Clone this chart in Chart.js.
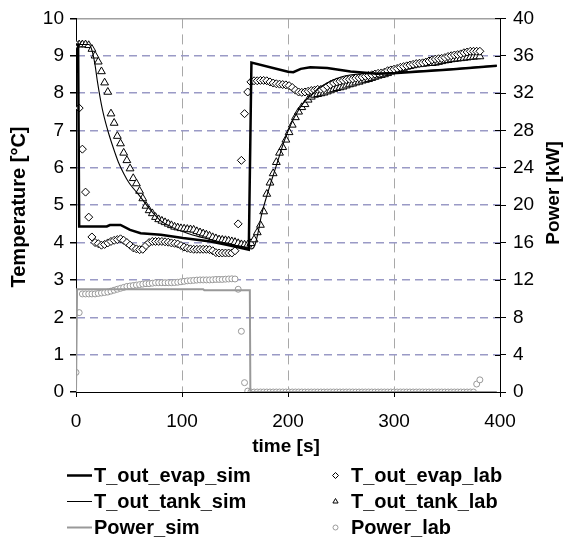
<!DOCTYPE html>
<html>
<head>
<meta charset="utf-8">
<script src="https://cdn.jsdelivr.net/npm/chart.js@4"></script>
<style>
  html, body { margin: 0; padding: 0; background: #fff; }
</style>
</head>
<body>
<canvas id="chart" width="566" height="540"></canvas>
<script>
// axis ticks
const timeTicks = [0, 100, 200, 300, 400];
const tempTicks = [0, 1, 2, 3, 4, 5, 6, 7, 8, 9, 10];
const powerTicks = [0, 4, 8, 12, 16, 20, 24, 28, 32, 36, 40];

// simulation curves (time [s] / value)
const evapSimTime = [0, 2, 3, 29, 32, 42, 51, 61, 80, 101, 127, 142, 163, 165.5, 200, 205, 212, 221, 237, 259, 284, 303, 353, 397];
const evapSim = [9.3, 9.3, 4.43, 4.43, 4.47, 4.47, 4.34, 4.25, 4.21, 4.12, 4.03, 3.94, 3.81, 8.82, 8.57, 8.56, 8.65, 8.69, 8.67, 8.58, 8.52, 8.54, 8.63, 8.73];

const tankSimTime = [0, 12, 15, 18, 20, 25, 30, 35, 40, 45, 50, 55, 60, 70, 80, 90, 100, 110, 120, 130, 140, 150, 160, 166, 169, 172, 175, 180, 186, 190, 196, 200, 205, 210, 215, 221, 230, 240, 250, 260, 270, 285, 300, 350, 397];
const tankSim = [9.3, 9.3, 9.15, 8.75, 8.35, 7.55, 7.0, 6.55, 6.15, 5.85, 5.6, 5.42, 5.25, 4.88, 4.58, 4.42, 4.3, 4.2, 4.13, 4.06, 3.99, 3.93, 3.87, 3.83, 3.95, 4.3, 4.74, 5.25, 5.8, 6.15, 6.68, 6.98, 7.3, 7.55, 7.75, 7.92, 8.15, 8.32, 8.43, 8.49, 8.52, 8.53, 8.55, 8.64, 8.74];

const powerSimTime = [0, 1, 120, 121, 164, 164.5, 397];
const powerSim = [0, 11.0, 11.0, 10.9, 10.9, 0, 0];

// lab measurements, every 3 s
const labTime = [
  0, 3, 6, 9, 12, 15, 18, 21, 24, 27,
  30, 33, 36, 39, 42, 45, 48, 51, 54, 57,
  60, 63, 66, 69, 72, 75, 78, 81, 84, 87,
  90, 93, 96, 99, 102, 105, 108, 111, 114, 117,
  120, 123, 126, 129, 132, 135, 138, 141, 144, 147,
  150, 153, 156, 159, 162, 165, 168, 171, 174, 177,
  180, 183, 186, 189, 192, 195, 198, 201, 204, 207,
  210, 213, 216, 219, 222, 225, 228, 231, 234, 237,
  240, 243, 246, 249, 252, 255, 258, 261, 264, 267,
  270, 273, 276, 279, 282, 285, 288, 291, 294, 297,
  300, 303, 306, 309, 312, 315, 318, 321, 324, 327,
  330, 333, 336, 339, 342, 345, 348, 351, 354, 357,
  360, 363, 366, 369, 372, 375, 378, 381
];
const evapLab = [
  9.3, 7.6, 6.5, 5.35, 4.68, 4.15, 4.0, 3.97, 3.93, 3.95,
  3.99, 4.03, 4.06, 4.08, 4.1, 4.06, 4.0, 3.93, 3.86, 3.83,
  3.81, 3.82, 3.92, 4.0, 4.03, 4.03, 4.03, 4.03, 4.02, 4.01,
  3.99, 3.98, 3.96, 3.92, 3.88, 3.85, 3.83, 3.82, 3.82, 3.82,
  3.82, 3.82, 3.81, 3.78, 3.73, 3.72, 3.72, 3.72, 3.72, 3.72,
  3.78, 4.5, 6.2, 7.45, 8.03, 8.3, 8.33, 8.33, 8.34, 8.34,
  8.33, 8.3, 8.27, 8.25, 8.24, 8.23, 8.22, 8.2, 8.15, 8.08,
  8.03, 8.02, 8.03, 8.05, 8.07, 8.08, 8.1, 8.1, 8.12, 8.18,
  8.23, 8.27, 8.3, 8.32, 8.34, 8.36, 8.37, 8.38, 8.4, 8.41,
  8.43, 8.45, 8.47, 8.49, 8.51, 8.53, 8.54, 8.56, 8.6, 8.62,
  8.64, 8.66, 8.69, 8.71, 8.73, 8.75, 8.77, 8.79, 8.8, 8.81,
  8.83, 8.86, 8.89, 8.91, 8.92, 8.93, 8.95, 8.98, 9.0, 9.02,
  9.03, 9.05, 9.08, 9.1, 9.12, 9.12, 9.12, 9.12
];
const tankLab = [
  9.3, 9.3, 9.3, 9.3, 9.28, 9.18, 9.0, 8.84, 8.58, 8.28,
  8.03, 7.45, 7.2, 6.85, 6.65, 6.4, 6.2, 5.98, 5.72, 5.58,
  5.38, 5.18, 4.98, 4.86, 4.78, 4.68, 4.62, 4.58, 4.54, 4.5,
  4.46, 4.42, 4.4, 4.38, 4.37, 4.36, 4.35, 4.34, 4.3, 4.27,
  4.24, 4.21, 4.18, 4.14, 4.11, 4.08, 4.07, 4.06, 4.05, 4.03,
  4.01, 3.98, 3.95, 3.94, 3.94, 3.98, 4.08, 4.27, 4.47, 4.83,
  5.3, 5.6, 5.85, 6.15, 6.4, 6.55, 6.75, 6.95, 7.15, 7.35,
  7.5, 7.62, 7.7, 7.82, 7.9, 7.95, 7.97, 7.99, 8.01, 8.04,
  8.07, 8.1, 8.13, 8.15, 8.17, 8.2, 8.23, 8.25, 8.28, 8.3,
  8.33, 8.35, 8.37, 8.4, 8.43, 8.46, 8.48, 8.5, 8.53, 8.57,
  8.6, 8.62, 8.64, 8.67, 8.7, 8.72, 8.74, 8.76, 8.77, 8.78,
  8.79, 8.8, 8.8, 8.81, 8.83, 8.85, 8.87, 8.88, 8.9, 8.91,
  8.92, 8.93, 8.94, 8.95, 8.96, 8.97, 8.98, 8.98
];
const powerLab = [
  2.1, 8.5, 10.5, 10.5, 10.5, 10.5, 10.5, 10.55, 10.6, 10.65,
  10.7, 10.8, 10.9, 11.0, 11.1, 11.2, 11.3, 11.35, 11.4, 11.45,
  11.5, 11.55, 11.6, 11.6, 11.65, 11.7, 11.7, 11.7, 11.7, 11.7,
  11.7, 11.72, 11.75, 11.8, 11.85, 11.9, 11.92, 11.95, 11.98, 12.0,
  12.0, 12.0, 12.0, 12.02, 12.05, 12.05, 12.05, 12.08, 12.1, 12.12,
  12.1, 11.0, 6.5, 1.0, 0.1, 0, 0, 0, 0, 0,
  0, 0, 0, 0, 0, 0, 0, 0, 0, 0,
  0, 0, 0, 0, 0, 0, 0, 0, 0, 0,
  0, 0, 0, 0, 0, 0, 0, 0, 0, 0,
  0, 0, 0, 0, 0, 0, 0, 0, 0, 0,
  0, 0, 0, 0, 0, 0, 0, 0, 0, 0,
  0, 0, 0, 0, 0, 0, 0, 0, 0, 0,
  0, 0, 0, 0, 0, 0, 0.85, 1.3
];

const FONT = "'Liberation Sans', Arial, sans-serif";
const GREY = '#999999';
const GRID_BLUE = '#9a9ac6';

const pts = (xs, ys) => xs.map((x, i) => ({ x: x, y: ys[i] }));

const legendItems = [
  { label: 'T_out_evap_sim', col: 0, row: 0, kind: 'line', color: '#000', width: 2.5 },
  { label: 'T_out_tank_sim', col: 0, row: 1, kind: 'line', color: '#000', width: 1 },
  { label: 'Power_sim', col: 0, row: 2, kind: 'line', color: GREY, width: 2 },
  { label: 'T_out_evap_lab', col: 1, row: 0, kind: 'rectRot', color: '#000' },
  { label: 'T_out_tank_lab', col: 1, row: 1, kind: 'triangle', color: '#000' },
  { label: 'Power_lab', col: 1, row: 2, kind: 'circle', color: GREY },
];

const extras = {
  id: 'extras',
  afterDraw(chart) {
    const ctx = chart.ctx;
    const area = chart.chartArea;
    const y2 = chart.scales.y2;
    ctx.save();

    // right axis ticks cross the axis line
    ctx.strokeStyle = '#000';
    ctx.lineWidth = 1;
    powerTicks.forEach((v) => {
      const py = Math.round(y2.getPixelForValue(v)) + 0.5;
      ctx.beginPath();
      ctx.moveTo(area.right - 5, py);
      ctx.lineTo(area.right, py);
      ctx.stroke();
    });

    // axis titles
    ctx.fillStyle = '#000';
    ctx.font = 'bold 19px ' + FONT;
    ctx.textAlign = 'center';
    ctx.textBaseline = 'middle';
    ctx.fillText('time [s]', 286, 447);

    ctx.font = 'bold 20px ' + FONT;
    ctx.save();
    ctx.translate(19, 207);
    ctx.rotate(-Math.PI / 2);
    ctx.fillText('Temperature [°C]', 0, 0);
    ctx.restore();

    ctx.font = 'bold 19px ' + FONT;
    ctx.save();
    ctx.translate(554, 193);
    ctx.rotate(-Math.PI / 2);
    ctx.fillText('Power [kW]', 0, 0);
    ctx.restore();

    // legend
    ctx.font = 'bold 20px ' + FONT;
    ctx.textAlign = 'left';
    legendItems.forEach((it) => {
      const y = 475 + it.row * 26;
      if (it.kind === 'line') {
        ctx.strokeStyle = it.color;
        ctx.lineWidth = it.width;
        ctx.beginPath();
        ctx.moveTo(67, y + 0.5);
        ctx.lineTo(92, y + 0.5);
        ctx.stroke();
      } else {
        ctx.fillStyle = '#fff';
        ctx.strokeStyle = it.color;
        ctx.lineWidth = 1;
        Chart.helpers.drawPoint(ctx, { pointStyle: it.kind, radius: it.kind === 'circle' ? 2.5 : 3, rotation: 0, borderWidth: 1 }, 335.5, y + 0.5);
      }
      ctx.fillStyle = '#000';
      ctx.fillText(it.label, it.col === 0 ? 94 : 351, y + 1);
    });
    ctx.restore();
  },
};

new Chart(document.getElementById('chart'), {
  type: 'scatter',
  data: {
    datasets: [
      {
        label: 'T_out_evap_sim',
        data: pts(evapSimTime, evapSim),
        showLine: true,
        borderColor: '#000',
        borderWidth: 2.5,
        borderJoinStyle: 'miter',
        pointRadius: 0,
        yAxisID: 'y',
      },
      {
        label: 'T_out_tank_sim',
        data: pts(tankSimTime, tankSim),
        showLine: true,
        borderColor: '#000',
        borderWidth: 1.1,
        pointRadius: 0,
        cubicInterpolationMode: 'monotone',
        yAxisID: 'y',
      },
      {
        label: 'Power_sim',
        data: pts(powerSimTime, powerSim),
        showLine: true,
        borderColor: GREY,
        borderWidth: 2,
        borderJoinStyle: 'miter',
        pointRadius: 0,
        yAxisID: 'y2',
      },
      {
        label: 'T_out_evap_lab',
        data: pts(labTime, evapLab),
        pointStyle: 'rectRot',
        pointRadius: 4,
        borderWidth: 1,
        borderColor: '#000',
        backgroundColor: '#fff',
        yAxisID: 'y',
      },
      {
        label: 'T_out_tank_lab',
        data: pts(labTime, tankLab),
        pointStyle: 'triangle',
        pointRadius: 4.5,
        borderWidth: 1,
        borderColor: '#000',
        backgroundColor: '#fff',
        yAxisID: 'y',
      },
      {
        label: 'Power_lab',
        data: pts(labTime, powerLab),
        pointStyle: 'circle',
        pointRadius: 3,
        borderWidth: 1,
        borderColor: GREY,
        backgroundColor: '#fff',
        yAxisID: 'y2',
      },
    ],
  },
  options: {
    responsive: false,
    animation: false,
    layout: { padding: { top: 15, left: 0, right: 0, bottom: 0 } },
    plugins: { legend: { display: false }, tooltip: { enabled: false } },
    scales: {
      x: {
        type: 'linear',
        min: 0,
        max: 400,
        afterBuildTicks: (s) => { s.ticks = timeTicks.map((v) => ({ value: v })); },
        afterFit: (s) => { s.height = 148; },
        grid: {
          color: (c) => (c.tick && (c.tick.value === 0 || c.tick.value === 400) ? 'rgba(0,0,0,0)' : '#a8a8a8'),
          lineWidth: 1,
          tickColor: '#000',
          tickLength: 5,
        },
        border: { color: '#000', width: 1, dash: [10, 6] },
        ticks: { color: '#000', font: { family: FONT, size: 19 }, padding: 13, maxRotation: 0 },
      },
      y: {
        position: 'left',
        min: 0,
        max: 10,
        afterBuildTicks: (s) => { s.ticks = tempTicks.map((v) => ({ value: v })); },
        afterFit: (s) => { s.width = 76; },
        grid: {
          color: (c) => {
            if (!c.tick) return GRID_BLUE;
            if (c.tick.value === 0) return 'rgba(0,0,0,0)';
            if (c.tick.value === 10) return '#a0a0a0';
            return GRID_BLUE;
          },
          lineWidth: 1.5,
          tickColor: '#000',
          tickLength: 6,
        },
        border: {
          color: '#000',
          width: 1,
          dash: (c) => (c.tick && c.tick.value === 10 ? [] : [8, 5]),
        },
        ticks: { color: '#000', font: { family: FONT, size: 19 }, padding: 6 },
      },
      y2: {
        position: 'right',
        min: 0,
        max: 40,
        afterBuildTicks: (s) => { s.ticks = powerTicks.map((v) => ({ value: v })); },
        afterFit: (s) => { s.width = 66; },
        grid: { drawOnChartArea: false, tickColor: '#000', tickLength: 6 },
        border: { color: '#000', width: 1 },
        ticks: { color: '#000', font: { family: FONT, size: 19 }, padding: 7 },
      },
    },
  },
  plugins: [extras],
});
</script>
</body>
</html>
